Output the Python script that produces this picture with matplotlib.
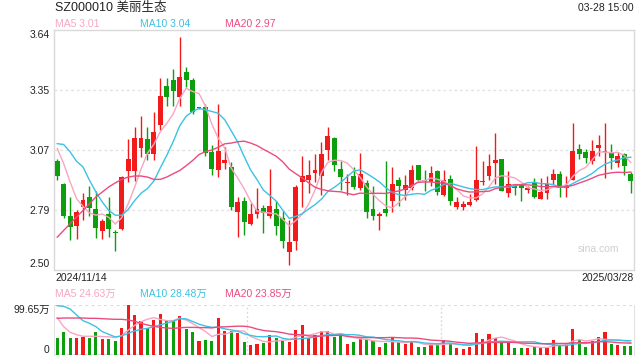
import numpy as np
import pandas as pd
import matplotlib
matplotlib.use('Agg')
from matplotlib import pyplot as plt

plt.rcParams['font.family'] = ['Liberation Sans', 'Noto Sans CJK SC', 'DejaVu Sans']

# Daily OHLC, 2024/11/14 .. 2025/03/28
opens = [3.015, 2.905, 2.753, 2.707, 2.797, 2.843, 2.786, 2.683, 2.762, 2.676,
         2.692, 2.969, 2.969, 3.080, 3.122, 3.052, 3.187, 3.373, 3.401, 3.322,
         3.438, 3.401, 3.268, 3.274, 3.060, 2.972, 3.007, 2.988, 2.773, 2.824,
         2.718, 2.764, 2.794, 2.754, 2.786, 2.745, 2.583, 2.635, 2.917, 2.928,
         2.960, 2.945, 3.068, 3.128, 2.977, 2.910, 2.944, 2.890, 2.913, 2.786,
         2.757, 2.786, 2.826, 2.924, 2.880, 2.890, 2.996, 2.924, 2.916, 2.969,
         2.853, 2.932, 2.797, 2.797, 2.805, 2.829, 2.917, 2.944, 3.007, 3.025,
         2.864, 2.896, 2.905, 2.877, 2.916, 2.835, 2.864, 2.924, 2.956, 2.888,
         2.924, 3.075, 3.060, 3.017, 3.079, 3.060, 3.055, 3.009, 3.048, 2.956]
highs = [3.028, 2.910, 2.845, 2.782, 2.866, 2.896, 2.872, 2.742, 2.845, 2.686,
         2.945, 3.120, 3.179, 3.230, 3.179, 3.249, 3.410, 3.413, 3.452, 3.605,
         3.462, 3.410, 3.275, 3.287, 3.091, 3.290, 3.083, 3.012, 2.845, 2.845,
         2.816, 2.888, 2.808, 2.977, 2.824, 2.777, 2.734, 2.900, 3.039, 3.020,
         3.049, 3.107, 3.179, 3.130, 3.015, 2.956, 2.988, 3.056, 2.925, 2.896,
         2.773, 3.017, 2.988, 2.940, 2.948, 2.996, 2.996, 2.975, 2.991, 2.975,
         2.975, 2.948, 2.845, 2.824, 2.861, 3.087, 3.017, 3.048, 3.150, 3.028,
         2.967, 2.905, 2.908, 2.896, 2.937, 2.935, 2.945, 2.980, 2.967, 2.943,
         3.199, 3.099, 3.075, 3.118, 3.139, 3.199, 3.099, 3.060, 3.055, 2.964]
lows = [2.925, 2.745, 2.641, 2.645, 2.734, 2.754, 2.651, 2.643, 2.654, 2.589,
        2.690, 2.917, 2.921, 3.036, 3.020, 3.020, 3.163, 3.277, 3.277, 3.279,
        3.370, 3.242, 3.262, 3.039, 2.948, 2.940, 2.980, 2.781, 2.654, 2.665,
        2.710, 2.745, 2.675, 2.745, 2.665, 2.603, 2.522, 2.594, 2.797, 2.866,
        2.917, 2.856, 3.020, 2.969, 2.877, 2.856, 2.883, 2.877, 2.745, 2.737,
        2.686, 2.757, 2.773, 2.800, 2.829, 2.877, 2.921, 2.874, 2.896, 2.853,
        2.850, 2.805, 2.789, 2.784, 2.800, 2.826, 2.900, 2.924, 2.908, 2.873,
        2.845, 2.856, 2.826, 2.864, 2.842, 2.835, 2.835, 2.908, 2.845, 2.845,
        2.924, 3.028, 3.007, 3.004, 3.039, 2.937, 2.980, 2.988, 2.948, 2.864]
closes = [2.945, 2.754, 2.702, 2.772, 2.829, 2.793, 2.697, 2.729, 2.692, 2.672,
          2.940, 3.025, 3.126, 3.126, 3.052, 3.153, 3.325, 3.322, 3.351, 3.414,
          3.401, 3.250, 3.272, 3.055, 2.979, 3.063, 3.020, 2.797, 2.820, 2.726,
          2.762, 2.786, 2.769, 2.800, 2.707, 2.635, 2.629, 2.893, 2.947, 2.948,
          2.972, 3.049, 3.134, 2.998, 2.940, 2.912, 2.893, 2.953, 2.773, 2.757,
          2.760, 2.769, 2.909, 2.896, 2.901, 2.972, 2.924, 2.920, 2.961, 2.869,
          2.928, 2.826, 2.820, 2.810, 2.821, 2.928, 2.920, 2.991, 3.020, 2.873,
          2.908, 2.889, 2.888, 2.889, 2.845, 2.867, 2.908, 2.956, 2.888, 2.900,
          3.063, 3.048, 3.031, 3.063, 3.091, 3.063, 3.031, 3.039, 2.991, 2.921]
# volume in 万 shares
volumes = [34.5, 46.5, 34.5, 34.5, 36.5, 34.5, 46.5, 31.9, 31.9, 28.6,
           54.5, 99.65, 80.4, 67.8, 54.5, 69.8, 81.7, 68.4, 68.4, 78.4,
           51.8, 46.5, 27.9, 29.9, 27.9, 73.7, 47.8, 47.8, 43.8, 25.9,
           19.9, 21.9, 23.9, 39.9, 33.9, 28.6, 25.9, 49.8, 59.8, 34.5,
           40.5, 47.8, 47.8, 35.9, 41.9, 21.9, 25.9, 35.9, 30.6, 27.9,
           15.9, 23.9, 34.5, 25.9, 22.6, 25.9, 15.9, 15.9, 21.9, 21.9,
           29.9, 22.6, 14.6, 12.6, 16.6, 44.5, 32.6, 42.5, 33.2, 25.2,
           24.6, 14.6, 14.6, 14.6, 16.6, 14.6, 14.6, 29.9, 20.6, 21.9,
           51.8, 29.9, 16.6, 27.9, 35.9, 45.8, 21.9, 19.9, 17.9, 17.9]

# moving-average values before enough in-window history exists
ma5_head = [3.076, 3.004, 2.917, 2.837]
ma10_head = [3.099, 3.095, 3.060, 3.015, 2.988, 2.925, 2.869, 2.821, 2.781]
ma20_head = [2.654, 2.686, 2.718, 2.750, 2.781, 2.813, 2.845, 2.869, 2.893, 2.912,
             2.929, 2.940, 2.945, 2.945, 2.940, 2.929, 2.929, 2.940, 2.956]
vma5_head = [74.4, 56.5, 45.2, 40.5]
vma10_head = [98.3, 97.0, 91.7, 79.7, 68.4, 63.1, 56.5, 46.5, 41.2]
vma20_head = [73.1, 73.7, 73.7, 73.7, 73.7, 73.1, 73.1, 72.4, 71.7, 71.1,
              71.1, 69.8, 67.1, 63.1, 59.8, 57.1, 55.1, 53.8, 53.1]

# legend texts as shown on the chart
price_ma_labels = ['MA5 3.01', 'MA10 3.04', 'MA20 2.97']
volume_ma_labels = ['MA5 24.63万', 'MA10 28.48万', 'MA20 23.85万']
price_ticks = ['2.50', '2.79', '3.07', '3.35', '3.64']
volume_ticks = ['0', '99.65万']
start_label, end_label = '2024/11/14', '2025/03/28'
title = 'SZ000010 美丽生态'
stamp = '03-28 15:00'

RED, GREEN = '#f21b1b', '#0c9e0c'
C5, C10, C20 = '#f7a6c1', '#3cc2e2', '#ec4b7e'
MA_COLORS = [C5, C10, C20]


def with_head(series, head, n):
    ma = pd.Series(series).rolling(n).mean().to_numpy()
    ma[:len(head)] = head
    return ma


o, h, l, c = map(np.array, (opens, highs, lows, closes))
v = np.array(volumes)
x = np.arange(len(c))
up = c >= o
colors = np.where(up, RED, GREEN)

fig = plt.figure(figsize=(6.4, 3.6), dpi=100)
ax = fig.add_axes([54 / 640, 1 - 269.5 / 360, 580 / 640, 239.5 / 360])
axv = fig.add_axes([54 / 640, 1 - 355 / 360, 580 / 640, 50 / 360])

# candles
ax.vlines(x, l, h, colors=colors, linewidth=1.0, zorder=2)
body = np.maximum(np.abs(c - o), 0.005)
ax.bar(x, body, bottom=np.minimum(o, c), width=0.75, color=colors, linewidth=0, zorder=3)

ax.plot(x, with_head(closes, ma5_head, 5), color=C5, lw=1.0, zorder=4)
ax.plot(x, with_head(closes, ma10_head, 10), color=C10, lw=1.0, zorder=4)
ax.plot(x, with_head(closes, ma20_head, 20), color=C20, lw=1.0, zorder=4)

ax.set_xlim(-0.5, len(c) - 0.5)
ax.set_ylim(2.50, 3.64)
yt = np.linspace(2.50, 3.64, len(price_ticks))
ax.set_yticks(yt)
ax.set_yticklabels(price_ticks, fontsize=7.5, color='#222222')
labs = ax.get_yticklabels()
labs[0].set_verticalalignment('bottom')
labs[-1].set_verticalalignment('top')
ax.tick_params(axis='y', length=0, pad=3)
ax.set_xticks([])
for t in yt[1:-1]:
    ax.axhline(t, color='#e3e3e3', lw=1.0, ls=(0, (2, 2)), zorder=1)
for s in ax.spines.values():
    s.set_color('#d9d9d9')
    s.set_linewidth(1.0)
ax.text(0.975, 0.085, 'sina.com', transform=ax.transAxes, ha='right', va='center',
        fontsize=7.5, color='#cfcfcf')

# volume
axv.bar(x, v, width=0.47, color=colors, linewidth=0, zorder=3)
axv.plot(x, with_head(volumes, vma5_head, 5), color=C5, lw=1.0, zorder=4)
axv.plot(x, with_head(volumes, vma10_head, 10), color=C10, lw=1.0, zorder=4)
axv.plot(x, with_head(volumes, vma20_head, 20), color=C20, lw=1.0, zorder=4)
axv.set_xlim(-0.5, len(c) - 0.5)
axv.set_ylim(0, max(volumes))
axv.set_yticks([0, max(volumes)])
axv.set_yticklabels(volume_ticks, fontsize=7.5, color='#222222')
vl = axv.get_yticklabels()
vl[0].set_verticalalignment('bottom')
vl[-1].set_verticalalignment('top')
axv.tick_params(axis='y', length=0, pad=3)
axv.set_xticks([])
for s in ('top', 'bottom'):
    axv.spines[s].set_visible(False)
for s in ('left', 'right'):
    axv.spines[s].set_color('#e3e3e3')
axv.axhline(max(volumes), color='#dcdcdc', lw=1.5, ls=(0, (1.5, 1.5)), zorder=1)
axv.axhline(0, color='#dcdcdc', lw=1.5, ls=(0, (1.5, 1.5)), zorder=1)
for frac in (1 / 3, 2 / 3):
    axv.axvline(-0.5 + frac * len(c), color='#dcdcdc', lw=1.0, ls=(0, (1.5, 1.5)), zorder=1)

# header and legends
fig.text(55 / 640, 1 - 8 / 360, title, ha='left', va='center', fontsize=9, color='#222222')
fig.text(634 / 640, 1 - 8 / 360, stamp, ha='right', va='center', fontsize=7.5, color='#222222')
for xp, txt, col in zip((55, 140, 225), price_ma_labels, MA_COLORS):
    fig.text(xp / 640, 1 - 24 / 360, txt, ha='left', va='center', fontsize=7.5, color=col)
for xp, txt, col in zip((55, 140, 225), volume_ma_labels, MA_COLORS):
    fig.text(xp / 640, 1 - 294 / 360, txt, ha='left', va='center', fontsize=7.5, color=col)
fig.text(55 / 640, 1 - 278 / 360, start_label, ha='left', va='center', fontsize=7.5, color='#222222')
fig.text(634 / 640, 1 - 278 / 360, end_label, ha='right', va='center', fontsize=7.5, color='#222222')

fig.savefig('out.png', dpi=100)
